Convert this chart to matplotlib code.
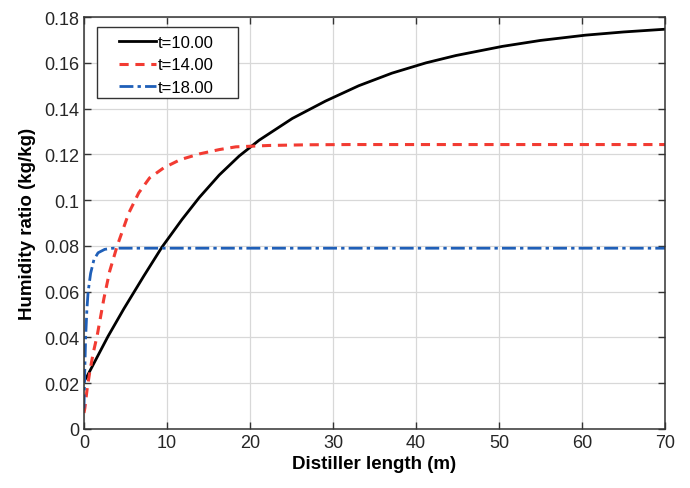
import numpy as np
import matplotlib.pyplot as plt
from matplotlib.patches import Rectangle

plt.rcParams['font.family'] = ['Liberation Sans', 'DejaVu Sans']

# humidity ratio along the distiller for three times
x_t10 = [0, 0.3, 2.9, 4.8, 7.2, 9.4, 11.8, 13.9, 16.3, 18.7, 21.1, 25.1,
         29.1, 33.1, 37.1, 41.2, 44.8, 50.4, 55.0, 60.4, 65.0, 70.0]
w_t10 = [0.021, 0.0225, 0.0405, 0.0525, 0.0668, 0.0795, 0.0915, 0.1012,
         0.1110, 0.1193, 0.1262, 0.1357, 0.1433, 0.1500, 0.1555, 0.1600,
         0.1632, 0.1672, 0.1698, 0.1721, 0.1735, 0.1747]

x_t14 = [0, 0.1, 0.4, 0.7, 1.1, 1.6, 2.4, 3.1, 4.0, 5.4, 6.6, 7.9, 9.6,
         11.6, 13.9, 16.3, 18.3, 22.3, 27.0, 32.0, 70.0]
w_t14 = [0.007, 0.009, 0.018, 0.025, 0.033, 0.041, 0.057, 0.069, 0.080,
         0.0944, 0.1032, 0.1097, 0.1141, 0.1177, 0.1202, 0.1221, 0.1233,
         0.1239, 0.1242, 0.1243, 0.1243]

x_t18 = [0, 0.05, 0.1, 0.2, 0.35, 0.5, 0.8, 1.2, 1.7, 2.5, 3.5, 5.0, 10.0, 70.0]
w_t18 = [0.009, 0.018, 0.026, 0.040, 0.052, 0.060, 0.068, 0.074, 0.077,
         0.0785, 0.079, 0.079, 0.079, 0.079]

fig = plt.figure(figsize=(6.9, 4.89), dpi=100)
ax = fig.add_axes([0.1217, 0.1207, 0.8421, 0.8423])

ax.plot(x_t10, w_t10, color='black', lw=2.0, ls='-', label='t=10.00')
ax.plot(x_t14, w_t14, color='#f23b32', lw=2.2, ls=(0, (3, 2.2)), label='t=14.00')
ax.plot(x_t18, w_t18, color='#1f5fb8', lw=2.0, ls=(0, (5, 1.5, 1.2, 1.5)), label='t=18.00')

ax.set_xlim(0, 70)
ax.set_ylim(0, 0.18)
ax.set_xticks(np.arange(0, 71, 10))
ax.set_yticks(np.arange(0, 0.181, 0.02))
ax.set_yticklabels(['0', '0.02', '0.04', '0.06', '0.08', '0.1', '0.12',
                    '0.14', '0.16', '0.18'])
ax.grid(True, color='#d8d8d8', lw=0.9)
ax.set_axisbelow(True)
ax.tick_params(direction='in', top=True, right=True, labelsize=13,
               length=5, width=1, colors='#333333', labelcolor='#262626')
for s in ax.spines.values():
    s.set_linewidth(1.1)
    s.set_color('#333333')

ax.set_xlabel('Distiller length (m)', fontsize=13.5, fontweight='bold', labelpad=3)
ax.set_ylabel('Humidity ratio (kg/kg)', fontsize=13.5, fontweight='bold', labelpad=6)

# legend box drawn separately so its padding can be wider than tall
box = Rectangle((97 / 690, 1 - 99 / 489), 141 / 690, 71 / 489,
                transform=fig.transFigure, facecolor='white',
                edgecolor='#333333', lw=1.0, zorder=4, clip_on=False)
ax.add_patch(box)
leg = ax.legend(loc='upper left', fontsize=12, frameon=False,
                handlelength=2.2, handletextpad=0.15, borderpad=0,
                borderaxespad=0, labelspacing=0.45,
                bbox_to_anchor=(119 / 690, 1 - 36 / 489),
                bbox_transform=fig.transFigure)
leg.set_zorder(5)

fig.savefig('out.png', dpi=100)
